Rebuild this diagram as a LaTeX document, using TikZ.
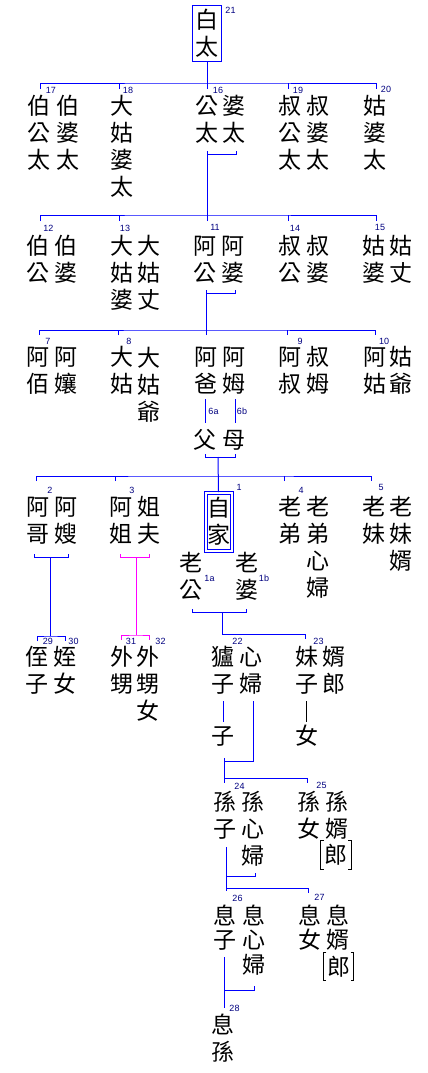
\documentclass[tikz,border=0pt]{standalone}
\usepackage{fontspec}
\newfontfamily\kinfont{Noto Sans CJK TC}
\newfontfamily\numfont{Liberation Sans}
\definecolor{linkblue}{RGB}{0,0,255}
\definecolor{numblue}{RGB}{0,0,128}
\definecolor{linkpink}{RGB}{255,0,255}
\tikzset{
  kin/.style={font=\kinfont\fontsize{23}{27}\selectfont, align=center, inner sep=0pt, anchor=base},
  kinlow/.style={kin, font=\kinfont\fontsize{23}{24.5}\selectfont},
  num/.style={font=\numfont\fontsize{9}{10}\selectfont, text=numblue, inner sep=0pt},
  kinline/.style={draw=linkblue, line width=1pt},
  inlaw/.style={draw=linkpink, line width=1pt},
  blackline/.style={draw=black, line width=1pt},
  langbox/.style={kin, anchor=center, minimum width=30, minimum height=28}
}

\begin{document}
\begin{tikzpicture}[x=1pt,y=-1pt]
\path[fill=white,use as bounding box] (0,0) rectangle (428,1073);

% generation +4 : top
\node[kin, anchor=center, draw=linkblue, line width=1pt, minimum width=29, minimum height=56] (baitai) at (207,33.5) {白\\太};
\node[num] (l21) at (230.5,10.5) {21};

% generation +3 (nodes sit on the baseline of their last line)
\node[kin] (n17a) at (39,168) {伯\\公\\太};
\node[kin] (n17b) at (67.5,168) {伯\\婆\\太};
\node[kin] (n18) at (122,195) {大\\姑\\婆\\太};
\node[kin] (n16a) at (206.5,141) {公\\太};
\node[kin] (n16b) at (234,141) {婆\\太};
\node[kin] (n19a) at (290,168) {叔\\公\\太};
\node[kin] (n19b) at (318,168) {叔\\婆\\太};
\node[kin] (n20) at (375,168) {姑\\婆\\太};
\node[num] (l17) at (51,90.5) {17};
\node[num] (l18) at (128,90) {18};
\node[num] (l16) at (218,90) {16};
\node[num] (l19) at (298,90) {19};
\node[num] (l20) at (386,89) {20};

\coordinate (r1) at (207,83);
\coordinate (t17) at (40,89);
\coordinate (t18) at (119,89);
\coordinate (t16) at (207,89);
\coordinate (t19) at (288,89);
\coordinate (t20) at (376,89);
\draw[kinline] (baitai.south) -- (r1);
\draw[kinline] (t17) |- (r1) -| (t20);
\foreach \t in {t18,t16,t19} \draw[kinline] (\t) -- (\t |- r1);

% generation +2
\node[kin] (n12a) at (38,281) {伯\\公};
\node[kin] (n12b) at (66,281) {伯\\婆};
\node[kin] (n13a) at (122,308) {大\\姑\\婆};
\node[kin] (n13b) at (149,308) {大\\姑\\丈};
\node[kin] (n11a) at (205,281) {阿\\公};
\node[kin] (n11b) at (233,281) {阿\\婆};
\node[kin] (n14a) at (290,281) {叔\\公};
\node[kin] (n14b) at (318,281) {叔\\婆};
\node[kin] (n15a) at (374,281) {姑\\婆};
\node[kin] (n15b) at (401,281) {姑\\丈};
\node[num] (l12) at (48.5,228.5) {12};
\node[num] (l13) at (125,228.5) {13};
\node[num] (l11) at (215,227) {11};
\node[num] (l14) at (295,228.5) {14};
\node[num] (l15) at (380,227) {15};

\coordinate (g16a) at (207,151);
\coordinate (g16b) at (236,151);
\coordinate (r2) at (207,215);
\coordinate (t12) at (40,221);
\coordinate (t13) at (119,221);
\coordinate (t11) at (207,221);
\coordinate (t14) at (288,221);
\coordinate (t15) at (376,221);
\draw[kinline] (g16a) -- ++(0,3) -| (g16b);
\draw[kinline] (g16a) -- (r2);
\draw[kinline] (t12) |- (r2) -| (t15);
\foreach \t in {t13,t11,t14} \draw[kinline] (\t) -- (\t |- r2);

% generation +1
\node[kin] (n7a) at (38,392.5) {阿\\佰};
\node[kin] (n7b) at (66,392.5) {阿\\孃};
\node[kin] (n8a) at (122,392.5) {大\\姑};
\node[kin] (n8b) at (149,420) {大\\姑\\爺};
\node[kin] (n6a) at (206,392.5) {阿\\爸};
\node[kin] (n6b) at (234,392.5) {阿\\姆};
\node[kin] (n9a) at (290,392.5) {阿\\叔};
\node[kin] (n9b) at (318,392.5) {叔\\姆};
\node[kin] (n10a) at (375,392.5) {阿\\姑};
\node[kin] (n10b) at (401,392.5) {姑\\爺};
\node[num] (l7) at (48,341) {7};
\node[num] (l8) at (129,341) {8};
\node[num] (l9) at (300,341) {9};
\node[num] (l10) at (384,341) {10};
\node[kin] (fu) at (205,448) {父};
\node[kin] (mu) at (234,448) {母};
\node[num] (l6a) at (213.5,411.5) {6a};
\node[num] (l6b) at (242,411.5) {6b};

\coordinate (g11a) at (206,290);
\coordinate (g11b) at (235,290);
\coordinate (r3) at (206,330);
\coordinate (t7) at (39,335);
\coordinate (t8) at (118,335);
\coordinate (t6) at (206,335);
\coordinate (t9) at (287,335);
\coordinate (t10) at (375,335);
\draw[kinline] (g11a) -- ++(0,3) -| (g11b);
\draw[kinline] (g11a) -- (r3);
\draw[kinline] (t7) |- (r3) -| (t10);
\foreach \t in {t8,t6,t9} \draw[kinline] (\t) -- (\t |- r3);
\coordinate (d6a) at (205,399);
\coordinate (e6a) at (205,423);
\coordinate (d6b) at (235,399);
\coordinate (e6b) at (235,423);
\draw[kinline] (d6a) -- (e6a);
\draw[kinline] (d6b) -- (e6b);

% own generation
\node[kin, anchor=center, draw=linkblue, double=white, double distance=2pt, line width=1pt, minimum width=26, minimum height=58] (self) at (218.5,521.5) {自\\家};
\node[num] (l1) at (239,487) {1};
\node[kin] (n2a) at (38,542) {阿\\哥};
\node[kin] (n2b) at (66,542) {阿\\嫂};
\node[kin] (n3a) at (121,542) {阿\\姐};
\node[kin] (n3b) at (149,542) {姐\\夫};
\node[kin] (n4a) at (290,542) {老\\弟};
\node[kin] (n4b) at (318,596) {老\\弟\\心\\婦};
\node[kin] (n5a) at (374,542) {老\\妹};
\node[kin] (n5b) at (401,569) {老\\妹\\婿};
\node[kin] (n1a) at (191,598) {老\\公};
\node[kin] (n1b) at (246.5,598) {老\\婆};
\node[num] (l2) at (50,490.5) {2};
\node[num] (l3) at (132,490.5) {3};
\node[num] (l4) at (301,490.5) {4};
\node[num] (l5) at (381,487) {5};
\node[num] (l1a) at (209.5,578) {1a};
\node[num] (l1b) at (264,578) {1b};

\coordinate (g6a) at (205,454);
\coordinate (g6b) at (235,454);
\coordinate (m6) at (218,457);
\coordinate (r4) at (218,476);
\coordinate (t2) at (36,481);
\coordinate (t3) at (115,481);
\coordinate (t4) at (284,481);
\coordinate (t5) at (371,481);
\draw[kinline] (g6a) -- ++(0,3) -| (g6b);
\draw[kinline] (m6) -- (self.north);
\draw[kinline] (t2) |- (r4) -| (t5);
\foreach \t in {t3,t4} \draw[kinline] (\t) -- (\t |- r4);

% generation -1
\node[kin] (n29) at (37,692) {侄\\子};
\node[kin] (n30) at (65,692) {姪\\女};
\node[kin] (n31) at (122,692) {外\\甥};
\node[kin] (n32) at (148,719) {外\\甥\\女};
\node[kin] (n22a) at (223,692) {獹\\子};
\node[kin] (n22b) at (251,692) {心\\婦};
\node[kin] (n23a) at (307,692) {妹\\子};
\node[kin] (n23b) at (334,692) {婿\\郎};
\node[kin] (son) at (223,744) {子};
\node[kin] (dau) at (307,744) {女};
\node[num] (l29) at (48,641.5) {29};
\node[num] (l30) at (73.5,641.5) {30};
\node[num] (l31) at (131,641) {31};
\node[num] (l32) at (160.5,641) {32};
\node[num] (l22) at (237.5,641.5) {22};
\node[num] (l23) at (318.5,641) {23};

\coordinate (g2a) at (34,554);
\coordinate (g2b) at (68,554);
\coordinate (m2) at (50,557);
\coordinate (r29) at (50,636);
\coordinate (t29) at (37,641);
\coordinate (t30) at (65.5,641);
\draw[kinline] (g2a) -- ++(0,3) -| (g2b);
\draw[kinline] (m2) -- (r29);
\draw[kinline] (t29) |- (r29) -| (t30);
\coordinate (g3a) at (120,554);
\coordinate (g3b) at (149,554);
\coordinate (m3) at (136.5,557);
\coordinate (r31) at (136.5,635);
\coordinate (t31) at (121,640);
\coordinate (t32) at (149,640);
\draw[inlaw] (g3a) -- ++(0,3) -| (g3b);
\draw[inlaw] (m3) -- (r31);
\draw[inlaw] (t31) |- (r31) -| (t32);
\coordinate (g1a) at (192,609);
\coordinate (g1b) at (246.5,609);
\coordinate (m1) at (222,612);
\coordinate (r22) at (222,634);
\coordinate (t23) at (305.5,639);
\draw[kinline] (g1a) -- ++(0,3) -| (g1b);
\draw[kinline] (m1) -- (r22) -| (t23);
\coordinate (d22a) at (223,701);
\coordinate (e22a) at (223,722);
\coordinate (d23a) at (306.5,701);
\coordinate (e23a) at (306.5,722);
\draw[kinline] (d22a) -- (e22a);
\draw[blackline] (d23a) -- (e23a);

% generation -2
\node[kin] (n24a) at (224.5,837) {孫\\子};
\node[kin] (n24b) at (252.5,864) {孫\\心\\婦};
\node[kin] (n25a) at (308.5,837) {孫\\女};
\node[kin] (n25b) at (337,837) {孫\\婿};
\node[langbox] (lang25) at (336,855) {郎};
\node[num] (l24) at (239.5,786) {24};
\node[num] (l25) at (321.5,785) {25};
\draw[blackline] ([xshift=3]lang25.north west) -- (lang25.north west) -- (lang25.south west) -- ([xshift=3]lang25.south west);
\draw[blackline] ([xshift=-3]lang25.north east) -- (lang25.north east) -- (lang25.south east) -- ([xshift=-3]lang25.south east);

\coordinate (g22b) at (253,701);
\coordinate (k22) at (224,761);
\coordinate (w22) at (224,758);
\coordinate (r24) at (224,778);
\coordinate (t24) at (224,783);
\coordinate (t25) at (307,783);
\draw[kinline] (g22b) |- (k22);
\draw[kinline] (w22) -- (t24);
\draw[kinline] (r24) -| (t25);

% generation -3
\node[kinlow] (n26a) at (225,948.5) {息\\子};
\node[kinlow] (n26b) at (253.5,973) {息\\心\\婦};
\node[kinlow] (n27a) at (310,948.5) {息\\女};
\node[kinlow] (n27b) at (338,948.5) {息\\婿};
\node[langbox, minimum height=27] (lang27) at (338.5,966.5) {郎};
\node[num] (l26) at (237.5,898) {26};
\node[num] (l27) at (319.5,897) {27};
\draw[blackline] ([xshift=3]lang27.north west) -- (lang27.north west) -- (lang27.south west) -- ([xshift=3]lang27.south west);
\draw[blackline] ([xshift=-3]lang27.north east) -- (lang27.north east) -- (lang27.south east) -- ([xshift=-3]lang27.south east);

\coordinate (w24) at (226,847);
\coordinate (t26) at (226,891);
\coordinate (g24b) at (255,873);
\coordinate (k24) at (226,876);
\coordinate (r26) at (226,888);
\coordinate (t27) at (308,893);
\draw[kinline] (w24) -- (t26);
\draw[kinline] (g24b) |- (k24);
\draw[kinline] (r26) -| (t27);

% generation -4
\node[kin] (n28) at (223,1060) {息\\孫};
\node[num] (l28) at (234.5,1008.5) {28};
\coordinate (w26) at (224,957);
\coordinate (t28) at (224,1008);
\coordinate (g26b) at (254,986);
\coordinate (k26) at (224,990);
\draw[kinline] (w26) -- (t28);
\draw[kinline] (g26b) |- (k26);
\end{tikzpicture}
\end{document}
